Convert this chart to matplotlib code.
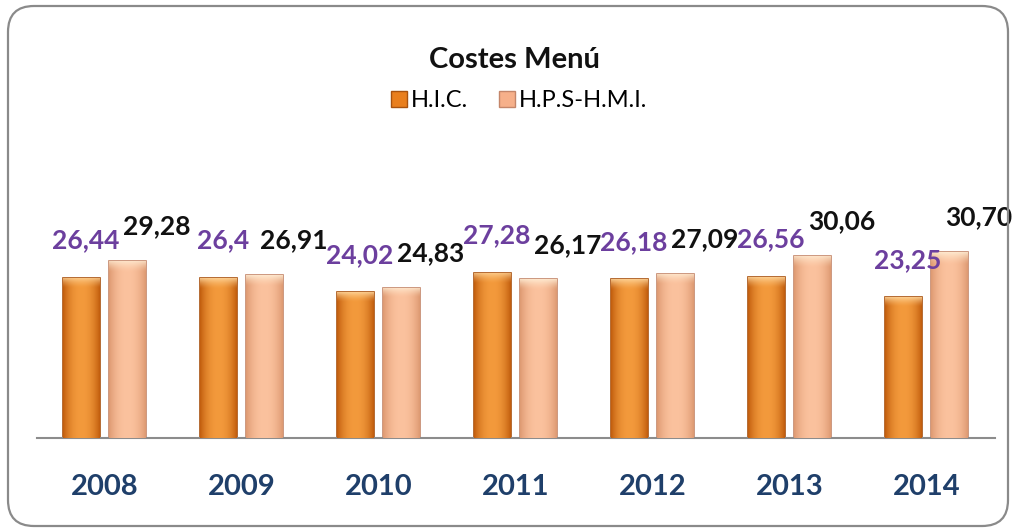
import numpy as np
import matplotlib
matplotlib.use('Agg')
import matplotlib.pyplot as plt
from matplotlib.colors import to_rgb
from matplotlib.patches import FancyBboxPatch, Patch
from matplotlib.transforms import IdentityTransform

years = ['2008', '2009', '2010', '2011', '2012', '2013', '2014']
hic = [26.44, 26.4, 24.02, 27.28, 26.18, 26.56, 23.25]
hps = [29.28, 26.91, 24.83, 26.17, 27.09, 30.06, 30.70]
hic_labels = ['26,44', '26,4', '24,02', '27,28', '26,18', '26,56', '23,25']
hps_labels = ['29,28', '26,91', '24,83', '26,17', '27,09', '30,06', '30,70']

plt.rcParams['font.family'] = ['Lato', 'DejaVu Sans']

fig = plt.figure(figsize=(10.14, 5.30), dpi=100)
ax = fig.add_axes([0.036, 0.1736, 0.945, 0.40])

x = np.arange(len(years))
w = 0.27
off = 0.168


def bar_image(center, edge, top):
    # horizontal shading (bright in the middle) plus a light band at the top
    nx, ny = 64, 200
    t = np.linspace(-1, 1, nx)
    k = np.abs(t) ** 2.2
    c = np.array(to_rgb(center))
    e = np.array(to_rgb(edge))
    row = c[None, :] * (1 - k[:, None]) + e[None, :] * k[:, None]
    img = np.repeat(row[None, :, :], ny, axis=0)
    tp = np.array(to_rgb(top))
    band = np.linspace(1, 0, 14) ** 1.5
    for i, b in enumerate(band):
        img[i] = img[i] * (1 - b * 0.8) + tp * b * 0.8
    return img


def draw_bars(xs, vals, center, edge, top, outline):
    img = bar_image(center, edge, top)
    bars = ax.bar(xs, vals, width=w, color=center, edgecolor=outline,
                  linewidth=1.2, zorder=2)
    for b in bars:
        x0 = b.get_x()
        h = b.get_height()
        im = ax.imshow(img, extent=(x0, x0 + w, 0, h), aspect='auto',
                       zorder=3, interpolation='bilinear')
        im.set_clip_path(b)
    return bars


b1 = draw_bars(x - off, hic, '#F39A3C', '#C25E0E', '#FFD9A0', '#A8520F')
b2 = draw_bars(x + off, hps, '#FBC29E', '#DE9A72', '#FFF0D8', '#C4866A')

for xi, v, s in zip(x - off, hic, hic_labels):
    ax.annotate(s, (xi, v), xytext=(3, 27), textcoords='offset points',
                ha='center', va='center', fontsize=19, fontweight='bold',
                color='#6C3F9E', zorder=5)
for xi, v, s in zip(x + off, hps, hps_labels):
    ax.annotate(s, (xi, v), xytext=(21, 25), textcoords='offset points',
                ha='center', va='center', fontsize=19, fontweight='bold',
                color='#111111', zorder=5)

ax.set_xlim(-0.5, len(years) - 0.5)
ax.set_ylim(0, 35)
ax.set_xticks(x)
ax.set_xticklabels(years, fontsize=21, fontweight='bold', color='#1F3F6A')
ax.tick_params(axis='x', length=0, pad=26)
ax.set_yticks([])
for s in ['top', 'right', 'left']:
    ax.spines[s].set_visible(False)
ax.spines['bottom'].set_color('#8C8C8C')
ax.spines['bottom'].set_linewidth(1.5)
ax.patch.set_alpha(0)

fig.text(0.507, 0.886, 'Costes Menú', ha='center', va='center',
         fontsize=21, fontweight='bold', color='#111111')

handles = [Patch(facecolor='#E97F1E', edgecolor='#A8520F'),
           Patch(facecolor='#F6B08A', edgecolor='#C4866A')]
fig.legend(handles, ['H.I.C.', 'H.P.S-H.M.I.'], loc='center',
           bbox_to_anchor=(0.512, 0.810), ncol=2, frameon=False,
           fontsize=17, handlelength=0.7, handleheight=0.7,
           handletextpad=0.15, columnspacing=1.3)

frame = FancyBboxPatch((8, 4), 1000, 520, boxstyle='round,pad=0,rounding_size=26',
                       transform=IdentityTransform(), facecolor='none',
                       edgecolor='#8A8A8A', linewidth=1.6)
fig.patches.append(frame)

fig.savefig('out.png', dpi=100)
